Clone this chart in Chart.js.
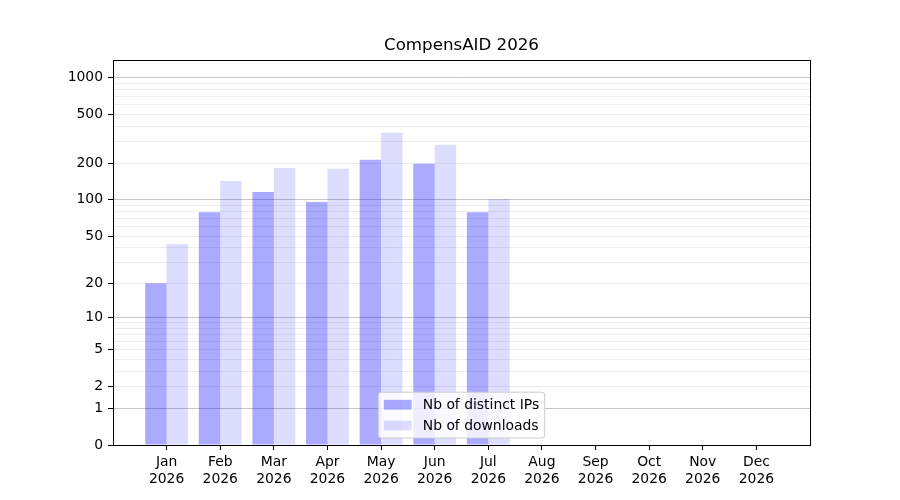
<!DOCTYPE html>
<html lang="en">
<head>
<meta charset="UTF-8">
<title>CompensAID 2026</title>
<style>
  body { margin: 0; background: #fff; }
  #wrap { width: 900px; height: 500px; }
</style>
<script src="https://cdn.jsdelivr.net/npm/chart.js"></script>
</head>
<body>
<div id="wrap"><canvas id="chart"></canvas></div>
<script>
const months = ['Jan', 'Feb', 'Mar', 'Apr', 'May', 'Jun', 'Jul', 'Aug', 'Sep', 'Oct', 'Nov', 'Dec'];
const year = '2026';
const distinctIPs = [20, 79, 116, 96, 213, 198, 79, 0, 0, 0, 0, 0];
const downloads = [43, 143, 183, 180, 355, 283, 101, 0, 0, 0, 0, 0];
const yTickLabels = [0, 1, 2, 5, 10, 20, 50, 100, 200, 500, 1000];
const yMax = 1400;

// y axis drawn as log10(1 + v), like the original picture
class Log1pScale extends Chart.Scale {
    static id = 'log1p';
    static defaults = {};

    determineDataLimits() {
        const { max } = this.getMinMax(true);
        this.min = this.options.min ?? 0;
        this.max = this.options.max ?? max;
    }

    buildTicks() {
        const ticks = [{ value: 0 }];
        for (let d = 1; d <= this.max; d *= 10) {
            for (let m = 1; m <= 9 && d * m <= this.max; m++) {
                ticks.push({ value: d * m });
            }
        }
        return ticks;
    }

    configure() {
        super.configure();
        this._startValue = Math.log10(1 + this.min);
        this._valueRange = Math.log10(1 + this.max) - this._startValue;
    }

    getLabelForValue(value) {
        return String(value);
    }

    getPixelForValue(value) {
        if (value === undefined || value === null) value = this.min;
        return this.getPixelForDecimal((Math.log10(1 + value) - this._startValue) / this._valueRange);
    }

    getValueForPixel(pixel) {
        return Math.pow(10, this._startValue + this.getDecimalForPixel(pixel) * this._valueRange) - 1;
    }
}
Chart.register(Log1pScale);

const isDecade = v => v >= 1 && Math.abs(Math.log10(v) % 1) < 1e-9;

const frameAndLegend = {
    id: 'frameAndLegend',
    afterDraw(chart) {
        const { ctx, chartArea: a } = chart;
        ctx.save();
        // axes frame
        ctx.strokeStyle = '#000';
        ctx.lineWidth = 1;
        ctx.strokeRect(Math.round(a.left) + 0.5, Math.round(a.top) + 0.5,
            Math.round(a.right - a.left), Math.round(a.bottom - a.top));

        // legend, lower center inside the plot
        const fs = 13.9, pad = 0.4 * fs, rowH = fs, gap = 0.5 * fs;
        const handleW = 2 * fs, handleH = 0.7 * fs, textPad = 0.8 * fs;
        ctx.font = fs + 'px "DejaVu Sans"';
        const sets = chart.data.datasets;
        const textW = Math.max(...sets.map(d => ctx.measureText(d.label).width));
        const w = pad * 2 + handleW + textPad + textW;
        const h = pad * 2 + rowH * sets.length + gap * (sets.length - 1);
        const x = (a.left + a.right) / 2 - w / 2;
        const y = a.bottom - 0.5 * fs - h;
        ctx.beginPath();
        ctx.roundRect(x, y, w, h, 3);
        ctx.fillStyle = 'rgba(255,255,255,0.8)';
        ctx.fill();
        ctx.strokeStyle = '#cccccc';
        ctx.stroke();
        sets.forEach((d, i) => {
            const cy = y + pad + rowH / 2 + i * (rowH + gap);
            ctx.fillStyle = d.backgroundColor;
            ctx.fillRect(x + pad, cy - handleH / 2, handleW, handleH);
            ctx.fillStyle = '#000';
            ctx.textBaseline = 'middle';
            ctx.textAlign = 'left';
            ctx.fillText(d.label, x + pad + handleW + textPad, cy + 1);
        });
        ctx.restore();
    }
};

Chart.defaults.font.family = '"DejaVu Sans", sans-serif';
Chart.defaults.color = '#000';

new Chart(document.getElementById('chart'), {
    type: 'bar',
    data: {
        datasets: [
            {
                label: 'Nb of distinct IPs',
                data: distinctIPs.map((v, i) => ({ x: i, y: v })),
                backgroundColor: 'rgba(0,0,255,0.333)'
            },
            {
                label: 'Nb of downloads',
                data: downloads.map((v, i) => ({ x: i, y: v })),
                backgroundColor: 'rgba(0,0,255,0.133)'
            }
        ]
    },
    options: {
        responsive: true,
        maintainAspectRatio: false,
        animation: false,
        layout: { padding: { left: 0, right: 90, top: 0, bottom: 0 } },
        datasets: { bar: { categoryPercentage: 0.8, barPercentage: 1.0 } },
        plugins: {
            legend: { display: false },
            tooltip: { enabled: false },
            title: {
                display: true,
                fullSize: false,
                text: 'CompensAID 2026',
                color: '#000',
                font: { size: 16.67, weight: 'normal' },
                padding: { top: 36, bottom: 4 }
            }
        },
        scales: {
            x: {
                type: 'linear',
                offset: false,
                min: -1,
                max: months.length,
                afterBuildTicks: scale => {
                    scale.ticks = months.map((m, i) => ({ value: i }));
                },
                afterFit: scale => { scale.height = 55; },
                border: { display: false },
                grid: {
                    offset: false,
                    drawOnChartArea: false,
                    drawTicks: true,
                    tickLength: 5,
                    tickColor: '#000'
                },
                ticks: {
                    autoSkip: false,
                    maxRotation: 0,
                    padding: 4,
                    font: { size: 13.9, lineHeight: 1.2 },
                    callback: v => [months[v], year]
                }
            },
            y: {
                type: 'log1p',
                min: 0,
                max: yMax,
                afterFit: scale => { scale.width = 113; },
                border: { display: false },
                grid: {
                    lineWidth: 1,
                    tickLength: 5,
                    color: c => isDecade(c.tick.value) ? 'rgba(0,0,0,0.22)' : 'rgba(0,0,0,0.075)',
                    tickColor: c => yTickLabels.includes(c.tick.value) ? '#000' : 'rgba(0,0,0,0)'
                },
                ticks: {
                    autoSkip: false,
                    padding: 5,
                    font: { size: 13.9 },
                    callback: v => yTickLabels.includes(v) ? String(v) : ''
                }
            }
        }
    },
    plugins: [frameAndLegend]
});
</script>
</body>
</html>
